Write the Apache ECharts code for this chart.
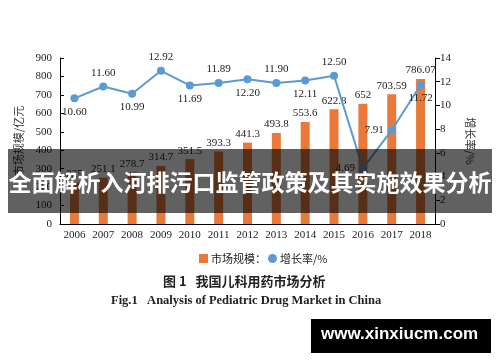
<!DOCTYPE html>
<html>
<head>
<meta charset="utf-8">
<script src="https://cdn.jsdelivr.net/npm/echarts@6/dist/echarts.min.js"></script>
<style>html,body{margin:0;padding:0;background:#fff;}#c{width:500px;height:362px;}</style>
</head>
<body>
<div id="c"></div>
<script>
var years = ['2006','2007','2008','2009','2010','2011','2012','2013','2014','2015','2016','2017','2018'];
var marketSize = [225, 251.1, 278.7, 314.7, 351.5, 393.3, 441.3, 493.8, 553.6, 622.8, 652, 703.59, 786.07];
var marketLabels = ['225','251.1','278.7','314.7','351.5','393.3','441.3','493.8','553.6','622.8','652','703.59','786.07'];
var growthRate = [10.60, 11.60, 10.99, 12.92, 11.69, 11.89, 12.20, 11.90, 12.11, 12.50, 4.69, 7.91, 11.72];
var leftTicks = [0, 100, 200, 300, 400, 500, 600, 700, 800, 900];
var rightTicks = [0, 2, 4, 6, 8, 10, 12, 14];

var serif = '"Liberation Serif", "Times New Roman", serif';
var cjk = '"Noto Sans CJK SC", sans-serif';

var linePos = ['bottom','top','bottom','top','bottom','top','bottom','top','bottom','top','left','left','bottom'];
var lineData = growthRate.map(function (v, i) {
  return { value: v, label: { position: linePos[i], distance: 4 } };
});

var chart = echarts.init(document.getElementById('c'));
chart.setOption({
  animation: false,
  backgroundColor: '#fff',
  grid: { left: 60, right: 65, top: 58, bottom: 138 },
  title: [
    { text: '图 1   我国儿科用药市场分析', left: 158, top: 270,
      textStyle: { fontFamily: cjk, fontSize: 13, fontWeight: 'bold', color: '#222' } },
    { text: 'Fig.1   Analysis of Pediatric Drug Market in China', left: 106, top: 289,
      textStyle: { fontFamily: serif, fontSize: 12.5, fontWeight: 'bold', color: '#222' } }
  ],
  legend: {
    left: 194, top: 248, itemGap: 2, itemWidth: 9, itemHeight: 9,
    textStyle: { fontFamily: cjk, fontSize: 11, color: '#222', padding: [0, 0, 0, -2] },
    data: [{ name: '市场规模：', icon: 'rect' }, { name: '增长率/%', icon: 'circle' }]
  },
  xAxis: {
    type: 'category', data: years, boundaryGap: true,
    axisLine: { lineStyle: { color: '#000', width: 1 } },
    axisTick: { show: false },
    axisLabel: { fontFamily: serif, fontSize: 11, color: '#222', margin: 6 }
  },
  yAxis: [
    { type: 'value', min: 0, max: 900, interval: 100,
      name: '市场规模/亿元', nameLocation: 'middle', nameGap: 33, nameRotate: 90,
      nameTextStyle: { fontFamily: cjk, fontSize: 11, color: '#333' },
      axisLine: { show: true, lineStyle: { color: '#000' } },
      axisTick: { show: true, inside: true, length: 4, lineStyle: { color: '#000' } },
      splitLine: { show: false },
      axisLabel: { fontFamily: serif, fontSize: 11, color: '#222', margin: 8 } },
    { type: 'value', min: 0, max: 14, interval: 2, position: 'right',
      name: '增长率/%', nameLocation: 'middle', nameGap: 30, nameRotate: -90,
      nameTextStyle: { fontFamily: cjk, fontSize: 11, color: '#333' },
      axisLine: { show: true, lineStyle: { color: '#000' } },
      axisTick: { show: true, inside: false, length: 5, lineStyle: { color: '#000' } },
      splitLine: { show: false },
      axisLabel: { fontFamily: serif, fontSize: 11, color: '#222', margin: 5 } }
  ],
  series: [
    { name: '市场规模：', type: 'bar', data: marketSize, barWidth: 9, yAxisIndex: 0,
      itemStyle: { color: '#E8793A' },
      label: { show: true, position: 'top', distance: 3, fontFamily: serif, fontSize: 11, color: '#222',
        formatter: function (p) { return marketLabels[p.dataIndex]; } } },
    { name: '增长率/%', type: 'line', data: lineData, yAxisIndex: 1,
      symbol: 'circle', symbolSize: 8,
      lineStyle: { color: '#5B9BD5', width: 2 },
      itemStyle: { color: '#5B9BD5' },
      label: { show: true, fontFamily: serif, fontSize: 11, color: '#222',
        formatter: function (p) { return growthRate[p.dataIndex].toFixed(2); } } }
  ],
  graphic: [
    { type: 'rect', left: 8, top: 149, z: 100, shape: { width: 484, height: 64 },
      style: { fill: 'rgba(0,0,0,0.62)' } },
    { type: 'text', z: 101, left: 'center', top: 171,
      style: { text: '全面解析入河排污口监管政策及其实施效果分析', fill: '#fff',
        font: 'bold 23px "Noto Sans CJK SC", sans-serif' } },
    { type: 'rect', left: 311, top: 319, z: 100, shape: { width: 180, height: 34 },
      style: { fill: '#000' } },
    { type: 'text', z: 101, left: 321, top: 326,
      style: { text: 'www.xinxiucm.com', fill: '#fff',
        font: 'bold 17px "Liberation Sans", Arial, sans-serif' } }
  ]
});
</script>
</body>
</html>
